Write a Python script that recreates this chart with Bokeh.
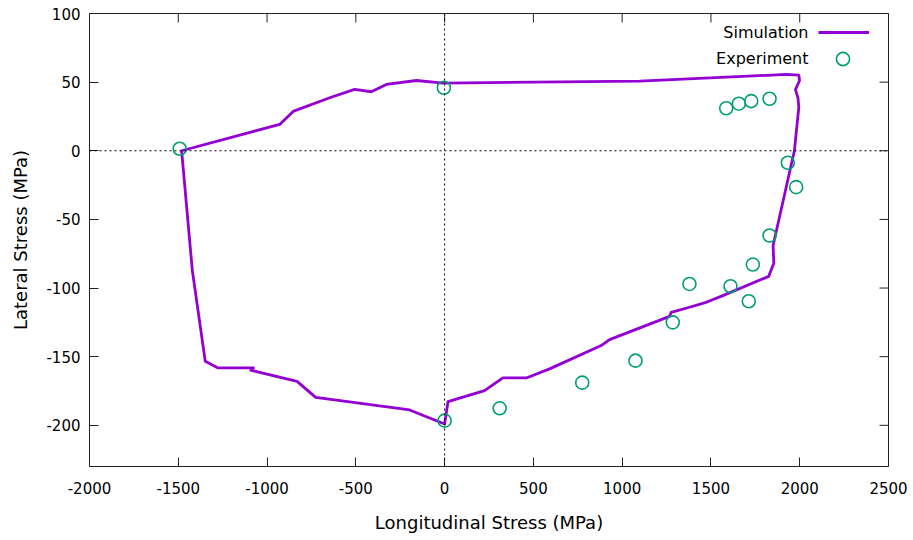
from bokeh.plotting import figure
from bokeh.models import (Range1d, FixedTicker, Span, Legend, LegendItem, Label,
                          PrintfTickFormatter)
from bokeh.embed import file_html
from bokeh.resources import INLINE

# ---- data ----
sim_x = [-1070, -1276, -1348, -1421, -1481, -929, -850, -647, -507, -413, -328, -159, -9,
         1098, 1924, 1995, 1999, 1976, 1990, 1995, 1970, 1850, 1854, 1825,
         1567, 1473, 1379, 1276, 1267, 929, 882, 591, 460, 328, 225, 19, 0,
         -197, -726, -831, -1098]
sim_y = [-158.2, -158.2, -153.4, -87, 0, 19.2, 28.9, 38.6, 44.7, 43, 48.3, 51.2, 49.3,
         50.7, 55.6, 55.1, 51.2, 44.5, 38.5, 31.8, 0, -69, -82, -91.5,
         -105.5, -110.4, -114, -117.7, -120.6, -137.6, -141.9, -158.9, -165.5, -165.5, -174.7, -182.8, -199,
         -188.8, -179.6, -168, -159.7]

exp_x = [-1492, -4, 1586, 1657, 1727, 1830, 1933, 1980, 1830, 1736,
         1379, 1610, 1713, 1285, 1075, 775, 310, 0]
exp_y = [1.5, 45.9, 31, 34.3, 36.2, 37.9, -8.7, -26.5, -61.7, -82.9,
         -97, -98.7, -109.6, -125, -152.9, -168.9, -187.6, -196.6]

x_ticks = [-2000, -1500, -1000, -500, 0, 500, 1000, 1500, 2000, 2500]
y_ticks = [-200, -150, -100, -50, 0, 50, 100]

FONT = "DejaVu Sans"
PURPLE = "#9400D3"
GREEN = "#009E73"
TICK = "#222222"

W, H = 913, 540
BL, BR, BT, BB = 89, 25, 13, 74
XMIN, XMAX, YMIN, YMAX = -2000, 2500, -230, 100

p = figure(width=W, height=H, output_backend="svg", toolbar_location=None,
           x_range=Range1d(XMIN, XMAX), y_range=Range1d(YMIN, YMAX),
           min_border_left=BL, min_border_right=BR, min_border_top=BT, min_border_bottom=BB,
           x_axis_label="Longitudinal Stress (MPa)", y_axis_label="Lateral Stress (MPa)")

p.xgrid.visible = False
p.ygrid.visible = False
p.outline_line_color = TICK
p.outline_line_width = 1
p.background_fill_color = "white"
p.border_fill_color = "white"

for ax, ticks in ((p.xaxis[0], x_ticks), (p.yaxis[0], y_ticks)):
    ax.ticker = FixedTicker(ticks=ticks)
    ax.formatter = PrintfTickFormatter(format="%d")
    ax.axis_line_color = None
    ax.major_tick_in = 9
    ax.major_tick_out = 0
    ax.major_tick_line_color = TICK
    ax.minor_tick_line_color = None
    ax.major_label_text_font = FONT
    ax.major_label_text_font_size = "15px"
    ax.major_label_text_color = "black"
    ax.axis_label_text_font = FONT
    ax.axis_label_text_font_size = "18px"
    ax.axis_label_text_font_style = "normal"
    ax.axis_label_text_color = "black"

p.xaxis[0].major_label_standoff = 15
p.xaxis[0].axis_label_standoff = 15
p.yaxis[0].major_label_standoff = 9
p.yaxis[0].axis_label_standoff = 12

# mirrored inward ticks on top and right edges (9 px long)
frame_w = W - BL - BR
frame_h = H - BT - BB
dx = 9 * (XMAX - XMIN) / frame_w
dy = 9 * (YMAX - YMIN) / frame_h
p.segment(x0=x_ticks, y0=[YMAX] * len(x_ticks), x1=x_ticks, y1=[YMAX - dy] * len(x_ticks),
          line_color=TICK, line_width=1)
p.segment(x0=[XMAX] * len(y_ticks), y0=y_ticks, x1=[XMAX - dx] * len(y_ticks), y1=y_ticks,
          line_color=TICK, line_width=1)

# zero axes
p.add_layout(Span(location=0, dimension="width", line_color="black", line_width=1, line_dash="2 3"))
p.add_layout(Span(location=0, dimension="height", line_color="black", line_width=1, line_dash="2 3"))

sim = p.line(sim_x, sim_y, line_color=PURPLE, line_width=2.8, line_join="round")
exp = p.scatter(exp_x, exp_y, marker="circle", size=13, fill_color=None,
                line_color=GREEN, line_width=1.6)

# legend samples (gnuplot style: text left of sample)
leg1 = Legend(items=[LegendItem(label=" ", renderers=[sim])], location=(729, 424),
              glyph_width=51, glyph_height=20, label_width=0, label_standoff=0,
              label_text_font_size="1px", padding=0, margin=0, spacing=0,
              border_line_color=None, background_fill_alpha=0)
leg2 = Legend(items=[LegendItem(label=" ", renderers=[exp])], location=(737, 391),
              glyph_width=33, glyph_height=33, label_width=0, label_standoff=0,
              label_text_font_size="1px", padding=0, margin=0, spacing=0,
              border_line_color=None, background_fill_alpha=0)
p.add_layout(leg1)
p.add_layout(leg2)

p.add_layout(Label(x=719, y=434, x_units="screen", y_units="screen", text="Simulation",
                   text_align="right", text_baseline="middle", text_font=FONT,
                   text_font_size="16px", text_color="black"))
p.add_layout(Label(x=719, y=408, x_units="screen", y_units="screen", text="Experiment",
                   text_align="right", text_baseline="middle", text_font=FONT,
                   text_font_size="16px", text_color="black"))

open("out.html", "w").write(file_html(p, INLINE))
